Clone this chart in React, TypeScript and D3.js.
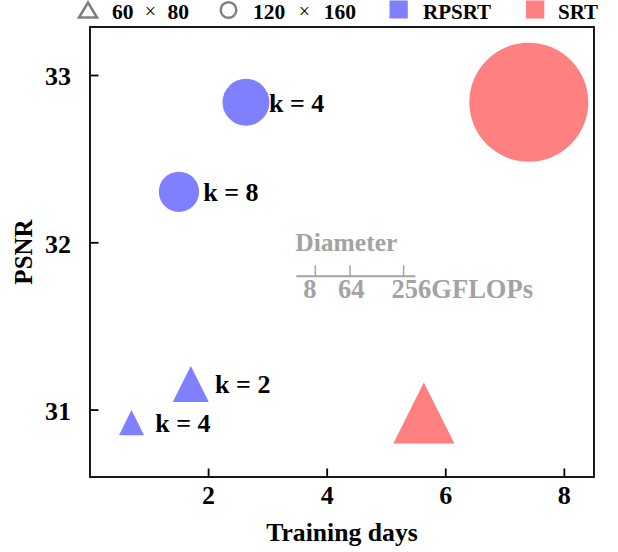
import React from 'react';
import * as d3 from 'd3';

// one entry per model variant
const models = ['RPSRT', 'RPSRT', 'RPSRT', 'RPSRT', 'SRT', 'SRT'];
const resolutions = ['60x80', '60x80', '120x160', '120x160', '60x80', '120x160'];
const trainingDays = [0.7, 1.7, 1.5, 2.63, 5.63, 7.4];
const psnr = [30.925, 31.156, 32.305, 32.84, 30.983, 32.84];
const gflops = [14, 29, 36, 49, 83, 315];

// annotations (data coords)
const kLabels = ['k = 4', 'k = 2', 'k = 8', 'k = 4'];
const kLabelDays = [1.1, 2.11, 1.91, 3.02];
const kLabelPsnr = [30.925, 31.156, 32.305, 32.84];

const xTicks = [2, 4, 6, 8];
const yTicks = [31, 32, 33];
const sizeTicks = [8, 64, 256];
const sizeAnchor = { days: 3.48, psnr: 31.8 };

const colors: Record<string, string> = { RPSRT: '#8080ff', SRT: '#ff8080' };
const FONT = '"Liberation Serif", "Times New Roman", serif';
const GRAY = '#a3a3a3';

const W = 618;
const H = 552;
const margin = { top: 27, right: 24, bottom: 75, left: 90 };

function trianglePath(cx: number, cy: number, s: number) {
  const h = s / 2;
  return `M${cx},${cy - h}L${cx + h},${cy + h}L${cx - h},${cy + h}Z`;
}

// "a × b" legend label, roughly like matplotlib mathtext spacing
function ResLabel({ x, a, b, width }: { x: number; a: string; b: string; width: number }) {
  return (
    <g fontSize={21.5}>
      <text x={x} y={18.8}>{a}</text>
      <text x={x + width / 2} y={18} textAnchor="middle" fontWeight="normal" fontSize={20}>×</text>
      <text x={x + width} y={18.8} textAnchor="end">{b}</text>
    </g>
  );
}

export default function App() {
  const x = d3.scaleLinear().domain([0, 8.5]).range([margin.left, W - margin.right]);
  const y = d3.scaleLinear().domain([30.6, 33.29]).range([H - margin.bottom, margin.top]);
  const size = d3.scaleSqrt().domain([0, 315]).range([0, 119]);

  const x0 = margin.left;
  const x1 = W - margin.right;
  const y0 = H - margin.bottom;
  const y1 = margin.top;

  const points = trainingDays.map((d, i) => ({
    model: models[i],
    res: resolutions[i],
    cx: x(d),
    cy: y(psnr[i]),
    s: size(gflops[i]),
  }));
  // draw big ones first
  const sorted = [...points].sort((a, b) => b.s - a.s);

  const ax = x(sizeAnchor.days);
  const ay = y(sizeAnchor.psnr);

  return (
    <svg width={W} height={H} style={{ position: 'absolute', left: 0, top: 0 }} fontFamily={FONT} fontWeight="bold">
      {/* markers */}
      {sorted.map((p, i) =>
        p.res === '120x160' ? (
          <circle key={i} cx={p.cx} cy={p.cy} r={p.s / 2} fill={colors[p.model]} />
        ) : (
          <path key={i} d={trianglePath(p.cx, p.cy, p.s)} fill={colors[p.model]} />
        )
      )}

      {/* k annotations */}
      {kLabels.map((t, i) => (
        <text key={i} x={x(kLabelDays[i])} y={y(kLabelPsnr[i])} dy="0.36em" fontSize={26} fill="#000">
          {t}
        </text>
      ))}

      {/* size legend */}
      <g fill={GRAY}>
        <text x={ax - 1} y={ay - 25} fontSize={25.5}>Diameter</text>
        <line x1={ax} x2={ax + size(315)} y1={ay} y2={ay} stroke={GRAY} strokeWidth={2} />
        {sizeTicks.map((v, i) => (
          <g key={v}>
            <line x1={ax + size(v)} x2={ax + size(v)} y1={ay - 11} y2={ay} stroke={GRAY} strokeWidth={1.5} />
            <text x={ax + size(v) - 12} y={ay + 22} fontSize={26.5}>
              {i === sizeTicks.length - 1 ? `${v}GFLOPs` : v}
            </text>
          </g>
        ))}
      </g>

      {/* frame + ticks */}
      <rect x={x0} y={y1} width={x1 - x0} height={y0 - y1} fill="none" stroke="#000" strokeWidth={1.8} />
      {xTicks.map(t => (
        <g key={t}>
          <line x1={x(t)} x2={x(t)} y1={y0} y2={y0 - 8.5} stroke="#000" strokeWidth={1.8} />
          <text x={x(t)} y={y0 + 27} textAnchor="middle" fontSize={26}>{t}</text>
        </g>
      ))}
      {yTicks.map(t => (
        <g key={t}>
          <line x1={x0} x2={x0 + 8.5} y1={y(t)} y2={y(t)} stroke="#000" strokeWidth={1.8} />
          <text x={x0 - 19} y={y(t)} dy="0.38em" textAnchor="end" fontSize={26}>{t}</text>
        </g>
      ))}

      <text x={(x0 + x1) / 2} y={H - 11} textAnchor="middle" fontSize={25.7}>Training days</text>
      <text transform={`translate(32,${(y0 + y1) / 2}) rotate(-90)`} textAnchor="middle" fontSize={25}>PSNR</text>

      {/* legend */}
      <g fontSize={21}>
        <path d="M88,2.5L97,17.5H79Z" fill="none" stroke="#808080" strokeWidth={2.5} strokeLinejoin="miter" />
        <ResLabel x={112} a="60" b="80" width={77} />
        <circle cx={228.5} cy={10} r={7.8} fill="none" stroke="#808080" strokeWidth={2.5} />
        <ResLabel x={253} a="120" b="160" width={103} />
        <rect x={389.5} y={0.5} width={18.3} height={18} fill={colors.RPSRT} />
        <text x={423} y={18.5}>RPSRT</text>
        <rect x={526} y={0.5} width={18.3} height={18} fill={colors.SRT} />
        <text x={558} y={18.5}>SRT</text>
      </g>
    </svg>
  );
}
